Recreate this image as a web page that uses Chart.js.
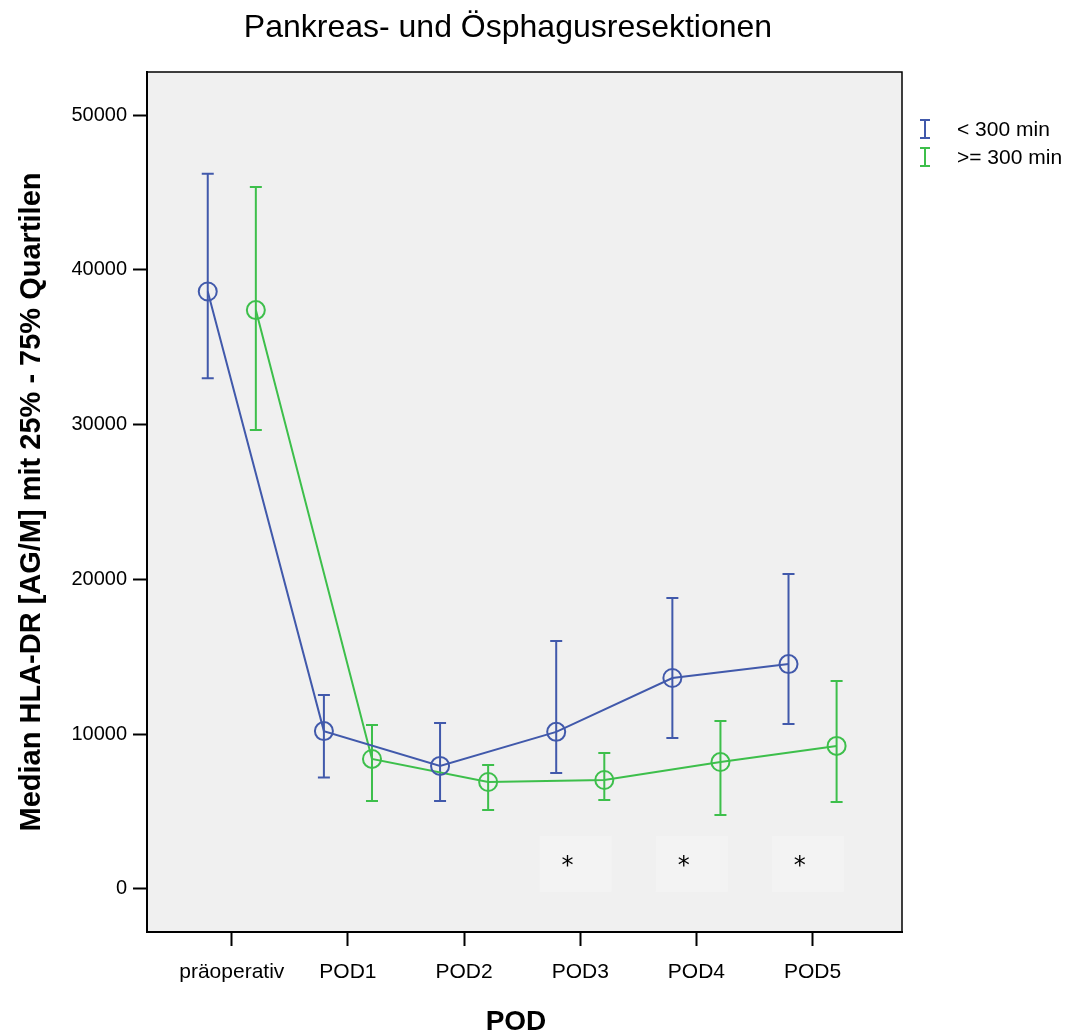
<!DOCTYPE html>
<html>
<head>
<meta charset="utf-8">
<script src="https://cdn.jsdelivr.net/npm/chart.js@4.4.0/dist/chart.umd.min.js"></script>
<style>
  html, body { margin: 0; padding: 0; background: #fff; }
  #wrap { width: 1066px; height: 1036px; position: relative; }
</style>
</head>
<body>
<div id="wrap"><canvas id="grafico"></canvas></div>
<script>
// Daten
const kategorien = ['präoperativ', 'POD1', 'POD2', 'POD3', 'POD4', 'POD5'];
const medianKurz = [38600, 10200, 7950, 10150, 13630, 14530];
const q25Kurz = [33000, 7200, 5680, 7490, 9760, 10660];
const q75Kurz = [46200, 12530, 10720, 16020, 18800, 20350];
const medianLang = [37400, 8400, 6910, 7040, 8200, 9240];
const q25Lang = [29650, 5680, 5100, 5750, 4780, 5620];
const q75Lang = [45350, 10590, 8010, 8790, 10850, 13440];
const sterne = ['', '', '', '*', '*', '*'];
const sternWert = 1750;
const yTicks = [0, 10000, 20000, 30000, 40000, 50000];

const blau = '#4159AB';
const gruen = '#3DBF4B';
const versatz = 0.207;

function punkte(werte, dx) {
    return werte.map((v, i) => ({ x: i + dx, y: v }));
}

function text(ctx, t, x, y, font, align) {
    ctx.save();
    ctx.font = font;
    ctx.textAlign = align;
    ctx.textBaseline = 'middle';
    ctx.fillText(t, x, y);
    ctx.restore();
}

// Fehlerbalken, Hintergrund, Sterne, Legende, Titel
const extras = {
    id: 'extras',
    beforeDraw(chart) {
        const { ctx, chartArea: a } = chart;
        ctx.save();
        ctx.fillStyle = '#F0F0F0';
        ctx.fillRect(a.left, a.top, a.right - a.left, a.bottom - a.top);
        ctx.restore();
    },
    beforeDatasetsDraw(chart) {
        const { ctx, scales: { x, y } } = chart;
        ctx.save();
        // Sterne mit hellen Kästchen
        sterne.forEach((s, i) => {
            if (!s) return;
            const cx = x.getPixelForValue(i - 0.04);
            const cy = y.getPixelForValue(sternWert);
            ctx.fillStyle = '#F3F3F3';
            ctx.fillRect(cx - 36, cy - 26, 72, 56);
            ctx.fillStyle = '#000';
            text(ctx, s, x.getPixelForValue(i - 0.11), cy + 5, '24px "DejaVu Sans"', 'center');
        });
        // Fehlerbalken
        const gruppen = [
            { lo: q25Kurz, hi: q75Kurz, dx: -versatz, farbe: blau },
            { lo: q25Lang, hi: q75Lang, dx: versatz, farbe: gruen }
        ];
        gruppen.forEach(g => {
            ctx.strokeStyle = g.farbe;
            ctx.lineWidth = 2;
            g.lo.forEach((lo, i) => {
                const px = x.getPixelForValue(i + g.dx);
                const y1 = y.getPixelForValue(lo);
                const y2 = y.getPixelForValue(g.hi[i]);
                ctx.beginPath();
                ctx.moveTo(px, y1); ctx.lineTo(px, y2);
                ctx.moveTo(px - 6, y1); ctx.lineTo(px + 6, y1);
                ctx.moveTo(px - 6, y2); ctx.lineTo(px + 6, y2);
                ctx.stroke();
            });
        });
        ctx.restore();
    },
    afterDraw(chart) {
        const { ctx, chartArea: a } = chart;
        ctx.save();
        // Rahmen oben und rechts
        ctx.strokeStyle = '#000';
        ctx.lineWidth = 1.5;
        ctx.beginPath();
        ctx.moveTo(a.left, a.top); ctx.lineTo(a.right, a.top); ctx.lineTo(a.right, a.bottom);
        ctx.stroke();
        // Titel und x-Achsentitel
        ctx.fillStyle = '#000';
        text(ctx, 'Pankreas- und Ösphagusresektionen', 508, 28, '32px "Liberation Sans"', 'center');
        text(ctx, 'POD', 516, 1022, 'bold 28px "Liberation Sans"', 'center');
        // Legende
        const eintraege = [['< 300 min', blau], ['>= 300 min', gruen]];
        eintraege.forEach(([t, farbe], i) => {
            const ly = 129 + i * 28;
            ctx.strokeStyle = farbe;
            ctx.lineWidth = 2;
            ctx.beginPath();
            ctx.moveTo(925, ly - 9); ctx.lineTo(925, ly + 9);
            ctx.moveTo(920, ly - 9); ctx.lineTo(930, ly - 9);
            ctx.moveTo(920, ly + 9); ctx.lineTo(930, ly + 9);
            ctx.stroke();
            ctx.fillStyle = '#000';
            text(ctx, t, 957, ly + 1, '21px "Liberation Sans"', 'left');
        });
        ctx.restore();
    }
};

const graficoCanvas = document.getElementById('grafico');
const grafico = new Chart(graficoCanvas, {
    type: 'scatter',
    data: {
        datasets: [{
            label: '< 300 min',
            data: punkte(medianKurz, -versatz),
            showLine: true,
            borderColor: blau,
            backgroundColor: 'rgba(0,0,0,0)',
            borderWidth: 2,
            pointRadius: 9,
            pointHoverRadius: 9,
            pointBorderWidth: 2,
            tension: 0
        }, {
            label: '>= 300 min',
            data: punkte(medianLang, versatz),
            showLine: true,
            borderColor: gruen,
            backgroundColor: 'rgba(0,0,0,0)',
            borderWidth: 2,
            pointRadius: 9,
            pointHoverRadius: 9,
            pointBorderWidth: 2,
            tension: 0
        }]
    },
    options: {
        responsive: true,
        maintainAspectRatio: false,
        animation: false,
        layout: { padding: { top: 72, right: 164, left: 0, bottom: 0 } },
        plugins: { legend: { display: false }, tooltip: { enabled: false } },
        scales: {
            x: {
                type: 'linear',
                min: -0.73,
                max: 5.77,
                afterFit: s => { s.height = 104; },
                afterBuildTicks: s => { s.ticks = kategorien.map((k, i) => ({ value: i })); },
                ticks: {
                    callback: v => kategorien[v],
                    color: '#000',
                    font: { size: 21, family: '"Liberation Sans"' },
                    padding: 14,
                    maxRotation: 0,
                    autoSkip: false
                },
                grid: { drawOnChartArea: false, drawTicks: true, tickLength: 14, tickWidth: 2, tickColor: '#000' },
                border: { display: true, color: '#000', width: 2 },
                title: { display: false }
            },
            y: {
                min: -2780,
                max: 52780,
                afterFit: s => { s.width = 147; },
                afterBuildTicks: s => { s.ticks = yTicks.map(v => ({ value: v })); },
                ticks: {
                    callback: v => String(v),
                    color: '#000',
                    font: { size: 20, family: '"Liberation Sans"' },
                    padding: 6
                },
                grid: { drawOnChartArea: false, drawTicks: true, tickLength: 14, tickWidth: 2, tickColor: '#000' },
                border: { display: true, color: '#000', width: 2 },
                title: {
                    display: true,
                    text: 'Median HLA-DR [AG/M] mit 25% - 75% Quartilen',
                    color: '#000',
                    font: { size: 29, weight: 'bold', family: '"Liberation Sans"' },
                    padding: { top: 15, bottom: 0 }
                }
            }
        }
    },
    plugins: [extras]
});
</script>
</body>
</html>
